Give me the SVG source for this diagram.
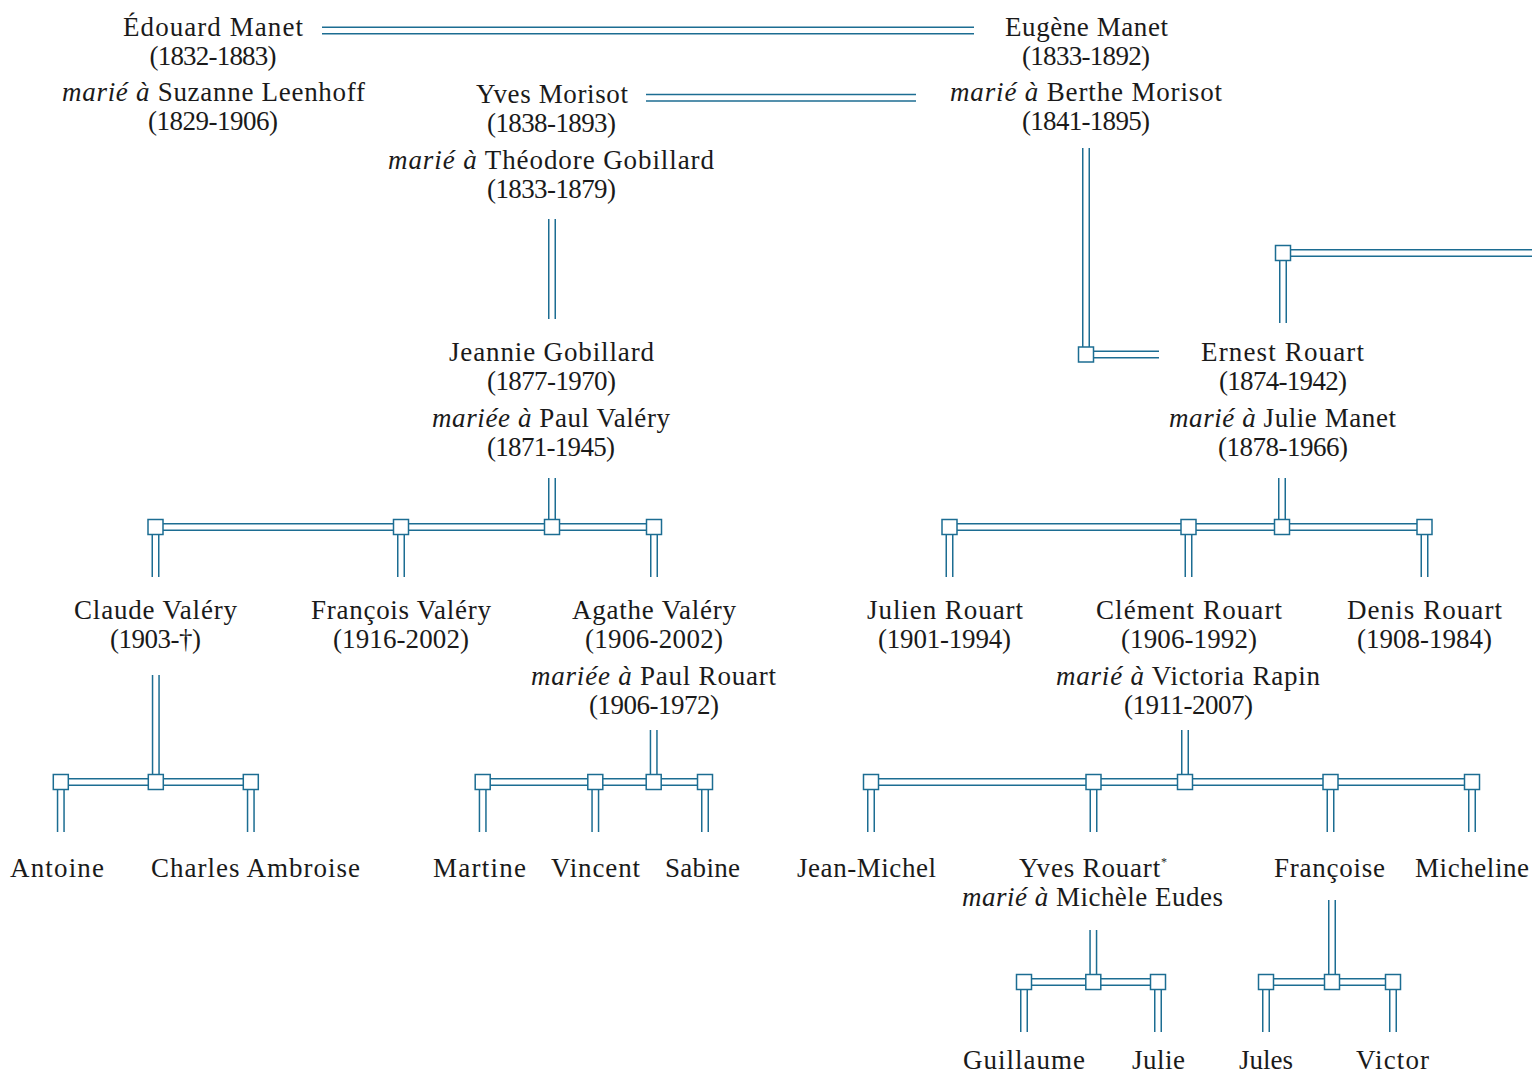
<svg xmlns="http://www.w3.org/2000/svg" xmlns:xlink="http://www.w3.org/1999/xlink" width="1532" height="1074" viewBox="0 0 1532 1074">
<style>
.t{font-family:"Liberation Serif","Times New Roman",serif;font-size:27px;fill:#1a1a1a;text-anchor:middle}
.i{font-style:italic}
.sup{font-size:12px}
.wo{fill:none;stroke:#1c6d92;stroke-width:8}
.wi{fill:none;stroke:#ffffff;stroke-width:5}
.sq{fill:#ffffff;stroke:#1c6d92;stroke-width:1.5}
</style>
<defs>
<g id="wires">
<path d="M322 30.5H974"/>
<path d="M646 97.7H916"/>
<path d="M1086 148V354.5H1159"/>
<path d="M1532 253H1283V323"/>
<path d="M552 219V319"/>
<path d="M552 478V527M155.5 527H654M155.5 527V577M401 527V577M654 527V577"/>
<path d="M1282 478V527M949.5 527H1424.5M949.5 527V577M1188.5 527V577M1424.5 527V577"/>
<path d="M155.8 675V782M60.8 782H250.8M60.8 782V832M250.8 782V832"/>
<path d="M653.7 730V782M482.7 782H705M482.7 782V832M595.3 782V832M705 782V832"/>
<path d="M1185 730V782M871 782H1472M871 782V832M1093.5 782V832M1330.5 782V832M1472 782V832"/>
<path d="M1093.3 930V982M1024 982H1158M1024 982V1032M1158 982V1032"/>
<path d="M1332 900V982M1266 982H1393M1266 982V1032M1393 982V1032"/>
</g>
<rect id="sq" x="-7.5" y="-7.5" width="15" height="15"/>
</defs>
<g id="connectors">
<use href="#wires" class="wo"/>
<use href="#wires" class="wi"/>
<g class="sq">
<use href="#sq" x="1086" y="354.5"/>
<use href="#sq" x="1283" y="253"/>
<use href="#sq" x="155.5" y="527"/><use href="#sq" x="401" y="527"/><use href="#sq" x="552" y="527"/><use href="#sq" x="654" y="527"/>
<use href="#sq" x="949.5" y="527"/><use href="#sq" x="1188.5" y="527"/><use href="#sq" x="1282" y="527"/><use href="#sq" x="1424.5" y="527"/>
<use href="#sq" x="60.8" y="782"/><use href="#sq" x="155.8" y="782"/><use href="#sq" x="250.8" y="782"/>
<use href="#sq" x="482.7" y="782"/><use href="#sq" x="595.3" y="782"/><use href="#sq" x="653.7" y="782"/><use href="#sq" x="705" y="782"/>
<use href="#sq" x="871" y="782"/><use href="#sq" x="1093.5" y="782"/><use href="#sq" x="1185" y="782"/><use href="#sq" x="1330.5" y="782"/><use href="#sq" x="1472" y="782"/>
<use href="#sq" x="1024" y="982"/><use href="#sq" x="1093.3" y="982"/><use href="#sq" x="1158" y="982"/>
<use href="#sq" x="1266" y="982"/><use href="#sq" x="1332" y="982"/><use href="#sq" x="1393" y="982"/>
</g>
</g>
<g id="edouard-manet" class="t">
<text x="213" y="36" textLength="180">Édouard Manet</text>
<text x="213" y="65" textLength="127">(1832-1883)</text>
<text x="213.5" y="101" textLength="303"><tspan class="i">marié à</tspan> Suzanne Leenhoff</text>
<text x="213" y="130" textLength="130">(1829-1906)</text>
</g>
<g id="eugene-manet" class="t">
<text x="1086.5" y="36" textLength="163">Eugène Manet</text>
<text x="1086" y="65" textLength="128">(1833-1892)</text>
<text x="1086" y="101" textLength="272"><tspan class="i">marié à</tspan> Berthe Morisot</text>
<text x="1086" y="130" textLength="128">(1841-1895)</text>
</g>
<g id="yves-morisot" class="t">
<text x="552" y="103" textLength="152">Yves Morisot</text>
<text x="551.5" y="132" textLength="129">(1838-1893)</text>
<text x="551" y="169" textLength="326"><tspan class="i">marié à</tspan> Théodore Gobillard</text>
<text x="551.5" y="198" textLength="129">(1833-1879)</text>
</g>
<g id="jeannie-gobillard" class="t">
<text x="551.5" y="361" textLength="205">Jeannie Gobillard</text>
<text x="551.5" y="390" textLength="129">(1877-1970)</text>
<text x="551" y="427" textLength="238"><tspan class="i">mariée à</tspan> Paul Valéry</text>
<text x="551" y="456" textLength="128">(1871-1945)</text>
</g>
<g id="ernest-rouart" class="t">
<text x="1282.5" y="361" textLength="163">Ernest Rouart</text>
<text x="1283" y="390" textLength="128">(1874-1942)</text>
<text x="1282.5" y="427" textLength="227"><tspan class="i">marié à</tspan> Julie Manet</text>
<text x="1283" y="456" textLength="130">(1878-1966)</text>
</g>
<g id="claude-valery" class="t">
<text x="155.5" y="619" textLength="163">Claude Valéry</text>
<text x="155.5" y="648" textLength="91">(1903-†)</text>
</g>
<g id="francois-valery" class="t">
<text x="401" y="619" textLength="180">François Valéry</text>
<text x="401" y="648" textLength="136">(1916-2002)</text>
</g>
<g id="agathe-valery" class="t">
<text x="654" y="619" textLength="164">Agathe Valéry</text>
<text x="654" y="648" textLength="138">(1906-2002)</text>
<text x="653.5" y="685" textLength="245"><tspan class="i">mariée à</tspan> Paul Rouart</text>
<text x="654" y="714" textLength="130">(1906-1972)</text>
</g>
<g id="julien-rouart" class="t">
<text x="945" y="619" textLength="156">Julien Rouart</text>
<text x="944.5" y="648" textLength="133">(1901-1994)</text>
</g>
<g id="clement-rouart" class="t">
<text x="1189" y="619" textLength="186">Clément Rouart</text>
<text x="1189" y="648" textLength="136">(1906-1992)</text>
<text x="1188" y="685" textLength="264"><tspan class="i">marié à</tspan> Victoria Rapin</text>
<text x="1188.5" y="714" textLength="129">(1911-2007)</text>
</g>
<g id="denis-rouart" class="t">
<text x="1424.5" y="619" textLength="155">Denis Rouart</text>
<text x="1424.5" y="648" textLength="135">(1908-1984)</text>
</g>
<g id="antoine" class="t"><text x="57" y="877" textLength="94">Antoine</text></g>
<g id="charles-ambroise" class="t"><text x="255.5" y="877" textLength="209">Charles Ambroise</text></g>
<g id="martine" class="t"><text x="479.5" y="877" textLength="93">Martine</text></g>
<g id="vincent" class="t"><text x="595.5" y="877" textLength="89">Vincent</text></g>
<g id="sabine" class="t"><text x="702.5" y="877" textLength="75">Sabine</text></g>
<g id="jean-michel" class="t"><text x="866.5" y="877" textLength="139">Jean-Michel</text></g>
<g id="yves-rouart" class="t">
<text x="1093" y="877" textLength="148">Yves Rouart<tspan class="sup" dy="-11">*</tspan></text>
<text x="1092.5" y="906" textLength="261"><tspan class="i">marié à</tspan> Michèle Eudes</text>
</g>
<g id="francoise" class="t"><text x="1329.5" y="877" textLength="111">Françoise</text></g>
<g id="micheline" class="t"><text x="1472" y="877" textLength="114">Micheline</text></g>
<g id="guillaume" class="t"><text x="1024" y="1069" textLength="122">Guillaume</text></g>
<g id="julie" class="t"><text x="1158.5" y="1069" textLength="53">Julie</text></g>
<g id="jules" class="t"><text x="1266" y="1069" textLength="54">Jules</text></g>
<g id="victor" class="t"><text x="1392.5" y="1069" textLength="73">Victor</text></g>
</svg>
